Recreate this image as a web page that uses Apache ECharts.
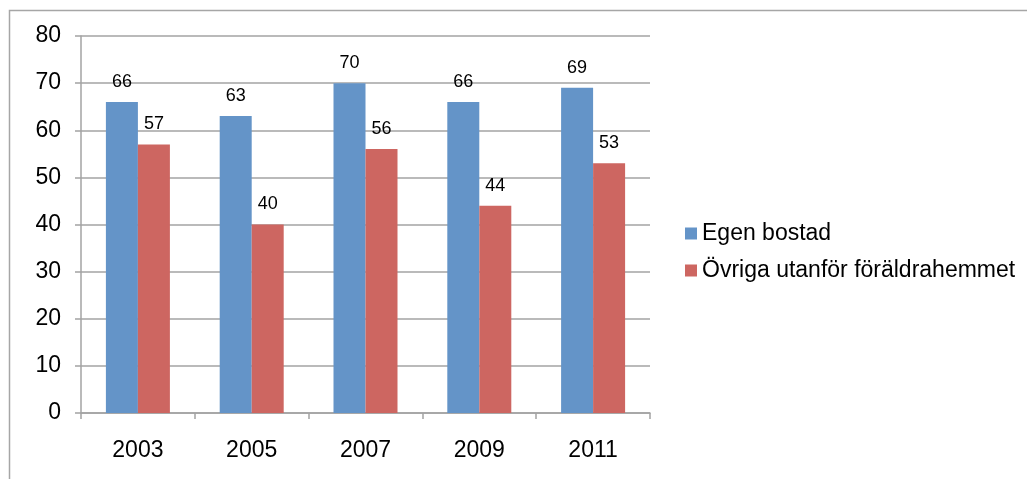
<!DOCTYPE html>
<html>
<head>
<meta charset="utf-8">
<script src="https://cdn.jsdelivr.net/npm/echarts@6/dist/echarts.min.js"></script>
<style>
  html, body { margin: 0; padding: 0; background: #fff; }
  #chart { width: 1027px; height: 479px; }
</style>
</head>
<body>
<div id="chart"></div>
<script>
// Survey years and the two housing groups (percent)
const years = ['2003', '2005', '2007', '2009', '2011'];
const egenBostad = [66, 63, 70, 66, 69];
const ovrigaUtanfor = [57, 40, 56, 44, 53];
const seriesNames = ['Egen bostad', 'Övriga utanför föräldrahemmet'];

const FONT = '"Liberation Sans", Arial, sans-serif';
const GRID_COLOR = '#a3a3a3';

const chart = echarts.init(document.getElementById('chart'), null, { renderer: 'canvas' });

const barLabel = {
  show: true,
  position: 'top',
  distance: 11,
  color: '#000',
  fontFamily: FONT,
  fontSize: 18
};

chart.setOption({
  animation: false,
  backgroundColor: '#fff',
  graphic: [{
    type: 'rect',
    silent: true,
    shape: { x: 9.5, y: 10.5, width: 1200, height: 800 },
    style: { fill: 'none', stroke: '#a6a6a6', lineWidth: 1.5 }
  }],
  grid: { left: 81, right: 377, top: 36, bottom: 66 },
  legend: {
    orient: 'vertical',
    left: 680,
    top: 217,
    itemWidth: 12,
    itemHeight: 12,
    itemGap: 14,
    icon: 'rect',
    textStyle: { color: '#000', fontFamily: FONT, fontSize: 23, padding: [0, 0, 0, 0] },
    data: seriesNames
  },
  xAxis: {
    type: 'category',
    data: years,
    axisLine: { lineStyle: { color: GRID_COLOR, width: 1.5 } },
    axisTick: { show: true, length: 6, interval: 0, lineStyle: { color: GRID_COLOR, width: 1.5 } },
    axisLabel: { color: '#000', fontFamily: FONT, fontSize: 23, margin: 26 }
  },
  yAxis: {
    type: 'value',
    min: 0,
    max: 80,
    interval: 10,
    axisLine: { show: true, lineStyle: { color: GRID_COLOR, width: 1.5 } },
    axisTick: { show: true, length: 6, lineStyle: { color: GRID_COLOR, width: 1.5 } },
    splitLine: { lineStyle: { color: GRID_COLOR, width: 1.5 } },
    axisLabel: { color: '#000', fontFamily: FONT, fontSize: 23, margin: 20 }
  },
  series: [
    {
      name: seriesNames[0],
      type: 'bar',
      data: egenBostad,
      barWidth: 32,
      barGap: '0%',
      itemStyle: { color: '#6494c8' },
      label: barLabel
    },
    {
      name: seriesNames[1],
      type: 'bar',
      data: ovrigaUtanfor,
      barWidth: 32,
      barGap: '0%',
      itemStyle: { color: '#cd6661' },
      label: barLabel
    }
  ]
});
</script>
</body>
</html>
